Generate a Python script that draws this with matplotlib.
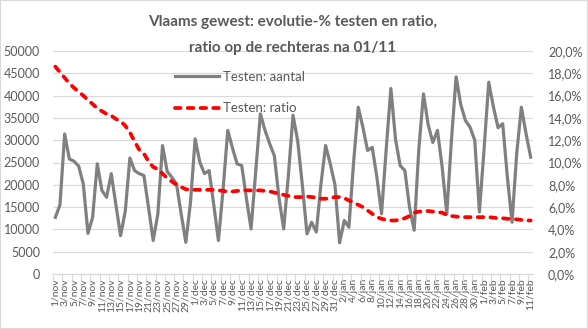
'''
Vlaams gewest: testen (aantal) en ratio, nov - feb
'''
import pandas as pd
import matplotlib
matplotlib.use('Agg')
import matplotlib.pyplot as plt
from matplotlib.patches import Rectangle
from matplotlib.ticker import FuncFormatter, FixedLocator

plt.rcParams['font.family'] = ['Lato', 'DejaVu Sans']

# dagen 1/11 t.e.m. 11/02
dates = pd.date_range('2020-11-01', '2021-02-11', freq='D')
month_names = {11: 'nov', 12: 'dec', 1: 'jan', 2: 'feb'}
labels = [f'{d.day}/{month_names[d.month]}' for d in dates]

aantal = [12700, 15500, 31400, 25800, 25300, 24200, 20200, 9100, 12700, 24700,
          18700, 17200, 22500, 15500, 8600, 14000, 26000, 23200, 22500, 22100,
          14900, 7500, 13500, 28800, 23000, 21700, 20200, 13500, 7100, 16000,
          30300, 25100, 22500, 23200, 15500, 7500, 19000, 32200, 28300, 24700,
          24300, 17000, 10100, 23000, 35900, 32200, 29200, 26500, 17000, 10100,
          22000, 35600, 29900, 20000, 9000, 11600, 9400, 20200, 28800, 24700,
          20000, 7000, 12000, 10500, 25000, 37400, 32900, 27700, 28400, 21700,
          13500, 28000, 41600, 30200, 24300, 23200, 15000, 9800, 28000, 40400,
          33500, 29500, 32200, 24000, 13500, 30000, 44200, 38000, 34400, 32900,
          30000, 13900, 28000, 43000, 37500, 32800, 33700, 21700, 11600, 27000,
          37400, 31500, 26200]

ratio = [18.6, 18.1, 17.6, 17.1, 16.7, 16.35, 16.0, 15.6, 15.25, 14.85,
         14.6, 14.35, 14.2, 13.9, 13.7, 13.3, 12.7, 11.9, 11.15, 10.8,
         10.1, 9.6, 9.4, 9.0, 8.6, 8.3, 8.0, 7.8, 7.6, 7.55,
         7.55, 7.55, 7.55, 7.55, 7.55, 7.5, 7.45, 7.4, 7.4, 7.45,
         7.5, 7.5, 7.5, 7.5, 7.5, 7.45, 7.4, 7.3, 7.2, 7.1,
         7.0, 6.9, 6.9, 6.9, 6.95, 6.9, 6.85, 6.75, 6.75, 6.8,
         6.9, 6.9, 6.8, 6.6, 6.4, 6.2, 6.0, 5.7, 5.4, 5.1,
         4.95, 4.85, 4.8, 4.8, 4.9, 5.0, 5.2, 5.5, 5.6, 5.6,
         5.65, 5.6, 5.55, 5.5, 5.3, 5.2, 5.15, 5.1, 5.1, 5.1,
         5.1, 5.1, 5.1, 5.1, 5.05, 5.0, 5.0, 4.95, 4.95, 4.9,
         4.85, 4.8, 4.8]

text_color = '#595959'
grid_color = '#d9d9d9'

fig = plt.figure(figsize=(5.88, 3.29), dpi=100)
ax = fig.add_axes([53 / 588, 1 - 274 / 329, 480 / 588, 223 / 329])
ax2 = ax.twinx()

x = list(range(len(dates)))

# gridlines
for v in range(5000, 50001, 5000):
    ax.axhline(v, color=grid_color, lw=0.8, zorder=0)

line1, = ax.plot(x, aantal, color='#808080', lw=2.3, solid_joinstyle='round',
                 label='Testen: aantal', zorder=3)
line2, = ax2.plot(x, ratio, color='#ff0000', lw=2.7, linestyle=(0, (1.5, 1.9)),
                  dash_capstyle='round', label='Testen: ratio', zorder=3)

ax.set_xlim(-0.5, len(dates) - 0.5)
ax.set_ylim(0, 50000)
ax2.set_ylim(0, 20)
ax.set_yticks(range(0, 50001, 5000))
ax2.set_yticks(range(0, 21, 2))
ax2.yaxis.set_major_formatter(FuncFormatter(lambda v, p: f'{v:.1f}%'.replace('.', ',')))

ax.set_xticks(x[::2])
ax.set_xticklabels(labels[::2], rotation=90, fontsize=7.5, color=text_color,
                   ha='center', va='top')
ax.xaxis.set_minor_locator(FixedLocator([i - 0.5 for i in x[::2]]))
ax.tick_params(axis='x', which='major', length=0, pad=3)
ax.tick_params(axis='x', which='minor', length=5, color=grid_color, width=0.8)
ax.tick_params(axis='y', length=0, labelsize=9, labelcolor=text_color, pad=9.4)
ax2.tick_params(axis='y', length=0, labelsize=9, labelcolor=text_color, pad=10.8)

for a in (ax, ax2):
    for s in ('top', 'left', 'right'):
        a.spines[s].set_visible(False)
    a.spines['bottom'].set_color(grid_color)
    a.spines['bottom'].set_linewidth(0.8)

fig.text(0.497, 1 - 22 / 329, 'Vlaams gewest: evolutie-% testen en ratio,',
         ha='center', va='center', fontsize=11, fontweight='bold', color=text_color)
fig.text(0.497, 1 - 48 / 329, 'ratio op de rechteras na 01/11',
         ha='center', va='center', fontsize=11, fontweight='bold', color=text_color)

ax2.legend([line1, line2], ['Testen: aantal', 'Testen: ratio'],
           loc='upper left', bbox_to_anchor=(175 / 588, 1 - 71 / 329),
           bbox_transform=fig.transFigure, frameon=False, fontsize=9.5,
           labelcolor=text_color, handlelength=3.3, handletextpad=0.35,
           labelspacing=1.45, borderpad=0, borderaxespad=0)

fig.patches.append(Rectangle((0, 0), 1, 1, transform=fig.transFigure, fill=False,
                             edgecolor=grid_color, lw=1.5))

fig.savefig('out.png', dpi=100)
